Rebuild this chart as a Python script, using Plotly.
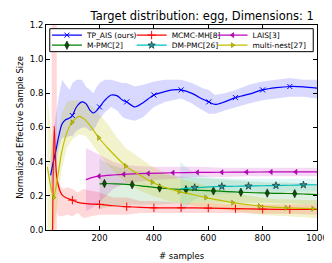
import plotly.graph_objects as go

# ---------------- data ----------------
# TP_AIS (ours)
tp_n = [20, 30, 40, 50, 62, 75, 90, 100, 115, 135, 150, 165, 177, 190, 200, 220, 243, 265, 285, 300,
        330, 360, 400, 440, 470, 500, 540, 580, 602, 625, 660, 700, 750, 800, 850, 900, 950, 1000]
tp_mean = [0.32, 0.40, 0.47, 0.55, 0.62, 0.645, 0.655, 0.67, 0.72, 0.75, 0.74, 0.70, 0.685, 0.70, 0.72, 0.76, 0.79, 0.785, 0.76, 0.75,
           0.72, 0.745, 0.79, 0.81, 0.82, 0.82, 0.80, 0.765, 0.75, 0.735, 0.75, 0.775, 0.795, 0.82, 0.833, 0.84, 0.838, 0.83]
tp_lo = [0.22, 0.30, 0.38, 0.48, 0.54, 0.54, 0.55, 0.55, 0.58, 0.60, 0.60, 0.58, 0.58, 0.62, 0.65, 0.69, 0.72, 0.70, 0.66, 0.65,
         0.64, 0.66, 0.72, 0.75, 0.76, 0.77, 0.74, 0.70, 0.68, 0.68, 0.70, 0.72, 0.74, 0.76, 0.77, 0.78, 0.78, 0.77]
tp_hi = [0.42, 0.56, 0.68, 0.78, 0.88, 0.85, 0.82, 0.86, 0.88, 0.88, 0.84, 0.82, 0.80, 0.84, 0.86, 0.88, 0.88, 0.87, 0.86, 0.86,
         0.84, 0.85, 0.87, 0.88, 0.88, 0.88, 0.86, 0.83, 0.82, 0.79, 0.80, 0.82, 0.85, 0.87, 0.88, 0.89, 0.88, 0.88]
tp_marks = [100, 200, 300, 400, 500, 602, 700, 800, 900]

# MCMC-MH[8]
mh_n = [25, 33, 37, 42, 50, 60, 75, 100, 120, 140, 170, 200, 250, 300, 350, 400, 500, 600, 700, 800, 900, 1000]
mh_mean = [-0.4, 0.61, 0.45, 0.32, 0.25, 0.21, 0.19, 0.175, 0.162, 0.156, 0.152, 0.15, 0.142, 0.136, 0.132, 0.13,
           0.13, 0.128, 0.125, 0.122, 0.12, 0.12]
mh_band_n = [24, 42, 43, 50, 65, 80, 100, 120, 140, 170, 200, 250, 300, 350, 400, 500, 600, 700, 800, 900, 1000]
mh_lo = [-1, -1, 0.10, 0.08, 0.08, 0.09, 0.08, 0.10, 0.07, 0.08, 0.09, 0.09, 0.09, 0.10, 0.10, 0.10, 0.10, 0.10, 0.095, 0.095, 0.09]
mh_hi = [2, 2, 0.30, 0.27, 0.24, 0.25, 0.24, 0.22, 0.24, 0.23, 0.22, 0.19, 0.19, 0.17, 0.17, 0.16, 0.16, 0.15, 0.15, 0.15, 0.15]
mh_marks = [100, 200, 300, 400, 500, 600, 700, 800, 900]

# LAIS[3]
la_n = [150, 175, 198, 250, 289, 379, 470, 560, 650, 741, 831, 922, 1000]
la_mean = [0.295, 0.308, 0.315, 0.322, 0.326, 0.331, 0.335, 0.337, 0.338, 0.339, 0.34, 0.34, 0.34]
la_lo = [0.11, 0.13, 0.16, 0.24, 0.27, 0.29, 0.30, 0.31, 0.31, 0.315, 0.315, 0.315, 0.315]
la_hi = [0.48, 0.46, 0.44, 0.40, 0.38, 0.37, 0.37, 0.37, 0.365, 0.365, 0.365, 0.365, 0.365]
la_marks = [198, 289, 379, 470, 560, 650, 741, 831, 922]

# M-PMC[2]
mp_n = [200, 218, 260, 320, 370, 421, 470, 518, 570, 619, 670, 720, 770, 817, 870, 918, 960, 1000]
mp_mean = [0.27, 0.272, 0.27, 0.265, 0.255, 0.246, 0.24, 0.236, 0.232, 0.229, 0.225, 0.221, 0.218, 0.216, 0.214, 0.213, 0.21, 0.207]
mp_lo = [0.12, 0.13, 0.14, 0.15, 0.15, 0.15, 0.155, 0.16, 0.16, 0.16, 0.16, 0.16, 0.16, 0.16, 0.155, 0.155, 0.15, 0.15]
mp_hi = [0.42, 0.40, 0.37, 0.35, 0.34, 0.33, 0.32, 0.31, 0.305, 0.30, 0.295, 0.29, 0.285, 0.28, 0.28, 0.275, 0.27, 0.27]
mp_marks = [218, 320, 421, 518, 619, 720, 817, 918]

# DM-PMC[26]
dm_n = [497, 550, 600, 650, 700, 748, 800, 849, 900, 950, 1000]
dm_mean = [0.24, 0.248, 0.252, 0.255, 0.256, 0.257, 0.259, 0.26, 0.262, 0.264, 0.265]
dm_lo = [0.10, 0.18, 0.20, 0.21, 0.215, 0.22, 0.22, 0.22, 0.225, 0.225, 0.225]
dm_hi = [0.40, 0.33, 0.31, 0.305, 0.30, 0.30, 0.30, 0.30, 0.30, 0.30, 0.30]
dm_marks = [550, 650, 748, 849, 950]

# multi-nest[27]
mn_n = [8, 20, 31, 45, 60, 80, 99, 125, 150, 175, 197, 230, 260, 296, 350, 394, 450, 493, 550, 591,
        650, 690, 750, 788, 850, 887, 950, 985, 1000]
mn_mean = [0.37, 0.26, 0.19, 0.30, 0.45, 0.57, 0.63, 0.665, 0.64, 0.59, 0.54, 0.48, 0.43, 0.375, 0.32, 0.28, 0.245, 0.225, 0.205, 0.19,
           0.172, 0.16, 0.148, 0.14, 0.133, 0.13, 0.127, 0.125, 0.125]
mn_lo = [0.0, 0.0, 0.0, 0.15, 0.35, 0.48, 0.53, 0.56, 0.55, 0.50, 0.45, 0.38, 0.33, 0.28, 0.23, 0.20, 0.17, 0.16, 0.14, 0.13,
         0.12, 0.11, 0.10, 0.09, 0.085, 0.08, 0.075, 0.07, 0.07]
mn_hi = [0.77, 0.60, 0.45, 0.55, 0.68, 0.75, 0.76, 0.76, 0.74, 0.72, 0.68, 0.62, 0.55, 0.48, 0.42, 0.37, 0.33, 0.30, 0.28, 0.26,
         0.23, 0.22, 0.20, 0.19, 0.18, 0.18, 0.175, 0.175, 0.175]
mn_marks = [31, 99, 197, 296, 394, 493, 591, 690, 788, 887, 985]

x_ticks = [200, 400, 600, 800, 1000]
y_ticks = [0.0, 0.2, 0.4, 0.6, 0.8, 1.0, 1.2]

FONT = "DejaVu Sans"

series = [
    # name, n, mean, band_n, lo, hi, marks, color, fill, marker dict, legend id
    ("TP_AIS (ours)", tp_n, tp_mean, tp_n, tp_lo, tp_hi, tp_marks, "#0000ff", "rgba(0,0,255,0.15)",
     dict(symbol="x-thin-open", size=5, color="#0000ff", line=dict(color="#0000ff", width=1)), "legend"),
    ("M-PMC[2]", mp_n, mp_mean, mp_n, mp_lo, mp_hi, mp_marks, "#008000", "rgba(0,128,0,0.12)",
     dict(symbol="diamond-tall", size=6, color="#0b4f0b", line=dict(color="#002000", width=0.6)), "legend4"),
    ("MCMC-MH[8]", mh_n, mh_mean, mh_band_n, mh_lo, mh_hi, mh_marks, "#ff0000", "rgba(255,0,0,0.15)",
     dict(symbol="cross-thin-open", size=6, color="#ff0000", line=dict(color="#ff0000", width=1)), "legend2"),
    ("DM-PMC[26]", dm_n, dm_mean, dm_n, dm_lo, dm_hi, dm_marks, "#00bfbf", "rgba(0,191,191,0.12)",
     dict(symbol="star", size=5.5, color="#2a9a9a", line=dict(color="#103535", width=0.7)), "legend5"),
    ("LAIS[3]", la_n, la_mean, la_n, la_lo, la_hi, la_marks, "#bf00bf", "rgba(191,0,191,0.15)",
     dict(symbol="triangle-left", size=4.5, color="#bf00bf", line=dict(color="#800080", width=0.5)), "legend3"),
    ("multi-nest[27]", mn_n, mn_mean, mn_n, mn_lo, mn_hi, mn_marks, "#bfbf00", "rgba(191,191,0,0.2)",
     dict(symbol="triangle-right", size=4.5, color="#bfbf00", line=dict(color="#808000", width=0.5)), "legend6"),
]

fig = go.Figure()

# bands first
for name, n, mean, bn, lo, hi, marks, color, fill, mk, lg in series:
    fig.add_trace(go.Scatter(
        x=list(bn) + list(bn)[::-1], y=list(hi) + list(lo)[::-1],
        fill="toself", fillcolor=fill, line=dict(width=0), mode="lines",
        hoverinfo="skip", showlegend=False))

# lines and markers
for name, n, mean, bn, lo, hi, marks, color, fill, mk, lg in series:
    fig.add_trace(go.Scatter(x=n, y=mean, mode="lines",
                             line=dict(color=color, width=1.2, shape="spline", smoothing=0.8),
                             showlegend=False, hoverinfo="skip"))
    my = [mean[n.index(m)] for m in marks]
    fig.add_trace(go.Scatter(x=marks, y=my, mode="markers", marker=mk,
                             showlegend=False))
    # legend entry
    fig.add_trace(go.Scatter(x=[None], y=[None], mode="lines+markers", name=name,
                             line=dict(color=color, width=1.2), marker=mk,
                             legend=lg, showlegend=True))

# legend box geometry (pixels in plot area -> paper)
L, R, T, B = 30, 318, 14, 237
W, H = R - L, B - T
def px(x):
    return (x - L) / W
def py(y):
    return (B - y) / H

col_x = [31, 121, 207]
row_y = [25, 36]
leg_common = dict(xanchor="left", yanchor="middle", bgcolor="rgba(0,0,0,0)", borderwidth=0,
                  font=dict(family=FONT, size=7.5, color="black"), itemwidth=30)
legend_ids = [("legend", 0, 0), ("legend2", 1, 0), ("legend3", 2, 0),
              ("legend4", 0, 1), ("legend5", 1, 1), ("legend6", 2, 1)]
leg_layout = {}
for lid, c, r in legend_ids:
    leg_layout[lid] = dict(leg_common, x=px(col_x[c]), y=py(row_y[r]))

fig.update_layout(**leg_layout)

fig.add_shape(type="rect", xref="paper", yref="paper",
              x0=px(34), x1=px(314), y0=py(43), y1=py(18),
              fillcolor="white", line=dict(color="black", width=1), layer="above")

fig.update_layout(
    width=332, height=263,
    margin=dict(l=L, r=332 - R, t=T, b=263 - B, pad=0),
    paper_bgcolor="white", plot_bgcolor="white",
    font=dict(family=FONT, size=8.5, color="black"),
    title=dict(text="Target distribution: egg, Dimensions: 1", font=dict(family=FONT, size=11.5, color="black"),
               x=px(196), xref="paper", xanchor="center", y=1 - 7.5 / 263, yref="container", yanchor="middle"),
    xaxis=dict(range=[3, 1000], tickvals=x_ticks, ticks="inside", ticklen=4, tickcolor="black",
               showline=True, linecolor="black", linewidth=1, mirror="ticks", showgrid=False, zeroline=False,
               tickfont=dict(family=FONT, size=8.5, color="black"),
               title=dict(text="# samples", font=dict(family=FONT, size=8.5, color="black"), standoff=10)),
    yaxis=dict(range=[0, 1.2], tickvals=y_ticks, tickformat=".1f", ticks="inside", ticklen=4, tickcolor="black",
               showline=True, linecolor="black", linewidth=1, mirror="ticks", showgrid=False, zeroline=False,
               tickfont=dict(family=FONT, size=8.5, color="black"),
               title=dict(text="Normalized Effective Sample Size", font=dict(family=FONT, size=8.5, color="black"),
                          standoff=4)),
)

fig.write_html("out.html")
